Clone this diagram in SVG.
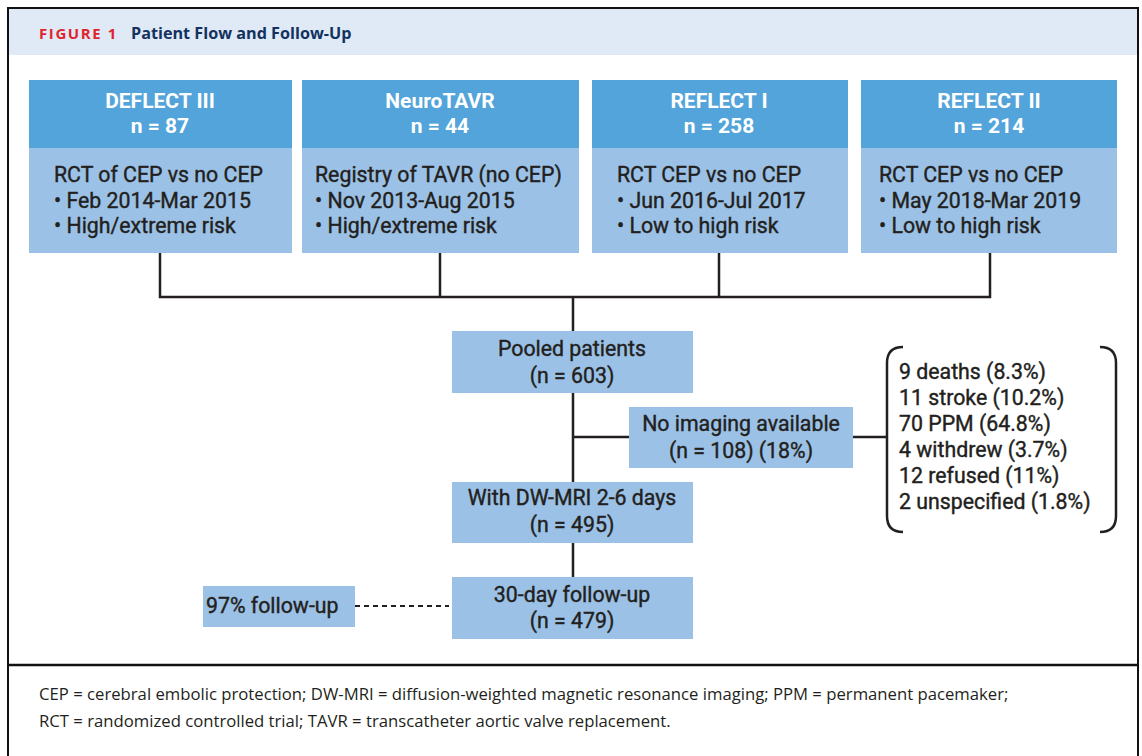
<svg xmlns="http://www.w3.org/2000/svg" width="1142" height="756" viewBox="0 0 1142 756">
<style>
.t{font-family:Roboto,"Liberation Sans",sans-serif;fill:#231f20;font-size:21.3px;font-weight:400;stroke:#231f20;stroke-width:0.4px}
.h{font-family:Roboto,"Liberation Sans",sans-serif;fill:#ffffff;font-size:21px;font-weight:bold;text-anchor:middle}
.c{text-anchor:middle}
.hd{fill:#52a4da}
.bd{fill:#9bc2e6}
.ln{stroke:#231f20;stroke-width:2.5;fill:none}
.fn{font-family:"Open Sans","Liberation Sans",sans-serif;fill:#231f20;font-size:16.7px}
</style>
<rect x="0" y="0" width="1142" height="756" fill="#ffffff"/>
<rect x="8" y="8" width="1130" height="47" fill="#dfeaf6"/>
<rect x="8" y="8" width="1130" height="760" fill="none" stroke="#111" stroke-width="2"/>
<line x1="8" y1="665" x2="1138" y2="665" stroke="#111" stroke-width="2.5"/>
<text x="39" y="39" font-family="'Open Sans','Liberation Sans',sans-serif" font-size="15" font-weight="bold" fill="#e0242e" letter-spacing="1.6">FIGURE 1</text>
<text x="131" y="39" font-family="'Open Sans','Liberation Sans',sans-serif" font-size="16.2" font-weight="bold" fill="#13325f">Patient Flow and Follow-Up</text>

<g id="connectors">
<path class="ln" d="M160 253 V297 H990 V253 M440 253 V297 M719 253 V297 M573 297 V331"/>
<path class="ln" d="M573 393 V482 M573 437 H629 M853 437 H887 M573 543 V577"/>
<path d="M355 606 H449" stroke="#231f20" stroke-width="2" stroke-dasharray="5 4" fill="none"/>
<path class="ln" d="M903 347 Q887 347 887 363 V516 Q887 532 903 532"/>
<path class="ln" d="M1100 347 Q1116 347 1116 363 V516 Q1116 532 1100 532"/>
</g>

<g id="deflect3">
<rect class="hd" x="29" y="80" width="263" height="68"/>
<rect class="bd" x="29" y="148" width="263" height="105"/>
<text class="h" x="160" y="108">DEFLECT III</text>
<text class="h" x="160" y="133">n = 87</text>
<text class="t" x="54" y="182">RCT of CEP vs no CEP</text>
<text class="t" x="54" y="207.5">• Feb 2014-Mar 2015</text>
<text class="t" x="54" y="233">• High/extreme risk</text>
</g>
<g id="neurotavr">
<rect class="hd" x="302" y="80" width="277" height="68"/>
<rect class="bd" x="302" y="148" width="277" height="105"/>
<text class="h" x="440" y="108">NeuroTAVR</text>
<text class="h" x="440" y="133">n = 44</text>
<text class="t" x="315" y="182">Registry of TAVR (no CEP)</text>
<text class="t" x="315" y="207.5">• Nov 2013-Aug 2015</text>
<text class="t" x="315" y="233">• High/extreme risk</text>
</g>
<g id="reflect1">
<rect class="hd" x="592" y="80" width="256" height="68"/>
<rect class="bd" x="592" y="148" width="256" height="105"/>
<text class="h" x="719" y="108">REFLECT I</text>
<text class="h" x="719" y="133">n = 258</text>
<text class="t" x="617" y="182">RCT CEP vs no CEP</text>
<text class="t" x="617" y="207.5">• Jun 2016-Jul 2017</text>
<text class="t" x="617" y="233">• Low to high risk</text>
</g>
<g id="reflect2">
<rect class="hd" x="861" y="80" width="256" height="68"/>
<rect class="bd" x="861" y="148" width="256" height="105"/>
<text class="h" x="989" y="108">REFLECT II</text>
<text class="h" x="989" y="133">n = 214</text>
<text class="t" x="879" y="182">RCT CEP vs no CEP</text>
<text class="t" x="879" y="207.5">• May 2018-Mar 2019</text>
<text class="t" x="879" y="233">• Low to high risk</text>
</g>
<g id="pooled">
<rect class="bd" x="452" y="331" width="241" height="62"/>
<text class="t c" x="572" y="356">Pooled patients</text>
<text class="t c" x="572" y="383">(n = 603)</text>
</g>
<g id="noimaging">
<rect class="bd" x="629" y="407" width="224" height="61"/>
<text class="t c" x="741" y="431">No imaging available</text>
<text class="t c" x="741" y="458">(n = 108) (18%)</text>
</g>
<g id="reasons">
<text class="t" x="899" y="379">9 deaths (8.3%)</text>
<text class="t" x="899" y="405">11 stroke (10.2%)</text>
<text class="t" x="899" y="431">70 PPM (64.8%)</text>
<text class="t" x="899" y="457">4 withdrew (3.7%)</text>
<text class="t" x="899" y="483">12 refused (11%)</text>
<text class="t" x="899" y="509">2 unspecified (1.8%)</text>
</g>
<g id="dwmri">
<rect class="bd" x="452" y="482" width="241" height="61"/>
<text class="t c" x="572" y="505">With DW-MRI 2-6 days</text>
<text class="t c" x="572" y="532">(n = 495)</text>
</g>
<g id="followup30">
<rect class="bd" x="452" y="577" width="241" height="62"/>
<text class="t c" x="572" y="602">30-day follow-up</text>
<text class="t c" x="572" y="628">(n = 479)</text>
</g>
<g id="followup97">
<rect class="bd" x="203" y="586" width="152" height="41"/>
<text class="t" x="206" y="613">97% follow-up</text>
</g>
<g id="footnote">
<text class="fn" x="39" y="700">CEP = cerebral embolic protection; DW-MRI = diffusion-weighted magnetic resonance imaging; PPM = permanent pacemaker;</text>
<text class="fn" x="39" y="727">RCT = randomized controlled trial; TAVR = transcatheter aortic valve replacement.</text>
</g>
</svg>
